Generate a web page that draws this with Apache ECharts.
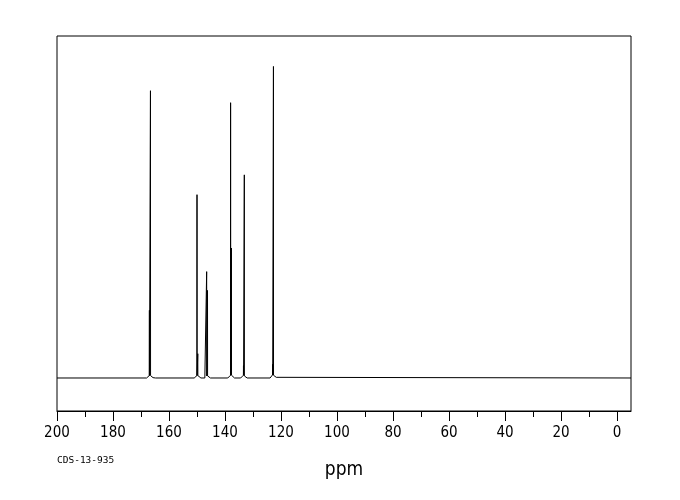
<!DOCTYPE html>
<html>
<head>
<meta charset="utf-8">
<script src="https://cdn.jsdelivr.net/npm/echarts@6.0.0/dist/echarts.min.js"></script>
<style>
html,body{margin:0;padding:0;background:#fff;}
#chart{width:680px;height:500px;}
</style>
</head>
<body>
<div id="chart"></div>
<script>
// Spectrum trace (chemical shift in ppm, relative intensity)
const ppm = [
  200, 168.0, 167.3, 167.05, 167.0, 166.97, 166.65, 166.62, 166.59, 166.3, 165.7, 164.8,
  151.0, 150.4, 150.03, 150.0, 149.97, 149.75, 149.72, 149.69, 149.3, 148.6,
  147.2, 146.75, 146.58, 146.55, 146.52, 146.28, 146.25, 146.22, 145.9, 145.2,
  139.0, 138.4, 138.03, 138.0, 137.97, 137.73, 137.7, 137.67, 137.3, 136.6,
  134.4, 133.8, 133.43, 133.4, 133.37, 133.13, 133.1, 133.07, 132.7, 132.1,
  123.9, 123.3, 123.03, 123.0, 122.97, 122.73, 122.7, 122.67, 122.3, 121.7, 121.0,
  -5
];
const intensity = [
  0, 0, 0.3, 0.7, 19.8, 0.7, 0.7, 84.0, 0.7, 0.3, 0.1, 0,
  0, 0.4, 0.7, 53.6, 0.7, 0.7, 7.1, 0.7, 0.3, 0,
  0, 0.5, 0.6, 31.1, 0.6, 0.6, 25.6, 0.6, 0.3, 0,
  0, 0.4, 0.8, 80.5, 0.8, 0.8, 38.0, 0.8, 0.4, 0,
  0, 0.4, 0.8, 3.6, 0.8, 0.7, 59.4, 0.6, 0.3, 0,
  0, 0.4, 0.9, 4.0, 0.9, 0.8, 91.1, 0.8, 0.5, 0.2, 0,
  0
];
const majorTicks = [200, 180, 160, 140, 120, 100, 80, 60, 40, 20, 0];
const minorTicks = [190, 170, 150, 130, 110, 90, 70, 50, 30, 10];
const axisTitle = 'ppm';
const codeLabel = 'CDS-13-935';

const points = ppm.map((p, i) => [p, intensity[i]]);

const chart = echarts.init(document.getElementById('chart'), null, {renderer: 'canvas'});
chart.setOption({
  animation: false,
  backgroundColor: '#ffffff',
  grid: {
    left: 57, right: 49, top: 36, bottom: 89,
    show: true, borderColor: '#000', borderWidth: 1, backgroundColor: 'transparent'
  },
  xAxis: [{
    type: 'value',
    inverse: true,
    min: -5, max: 200,
    position: 'bottom',
    axisLine: {show: true, onZero: false, lineStyle: {color: '#000', width: 1}},
    axisTick: {show: true, customValues: majorTicks, length: 10, lineStyle: {color: '#000', width: 1}},
    axisLabel: {
      show: true, customValues: majorTicks, margin: 15,
      color: '#000', fontFamily: 'DejaVu Sans Condensed, DejaVu Sans', fontSize: 15
    },
    splitLine: {show: false},
    name: axisTitle,
    nameLocation: 'middle',
    nameGap: 50,
    nameTextStyle: {color: '#000', fontFamily: 'DejaVu Sans Condensed, DejaVu Sans', fontSize: 19}
  }, {
    type: 'value',
    inverse: true,
    min: -5, max: 200,
    position: 'bottom',
    offset: 0,
    axisLine: {show: false, onZero: false},
    axisTick: {show: true, customValues: minorTicks, length: 6, lineStyle: {color: '#000', width: 1}},
    axisLabel: {show: false},
    splitLine: {show: false}
  }],
  yAxis: {
    type: 'value',
    min: -9.65, max: 100,
    show: false,
    splitLine: {show: false}
  },
  graphic: [{
    type: 'text',
    left: 57, top: 456,
    style: {text: codeLabel, fill: '#000', font: '9.5px "DejaVu Sans Mono"'}
  }],
  series: [{
    type: 'line',
    xAxisIndex: 0,
    data: points,
    showSymbol: false,
    symbol: 'none',
    lineStyle: {color: '#000', width: 1},
    silent: true
  }]
});
</script>
</body>
</html>
